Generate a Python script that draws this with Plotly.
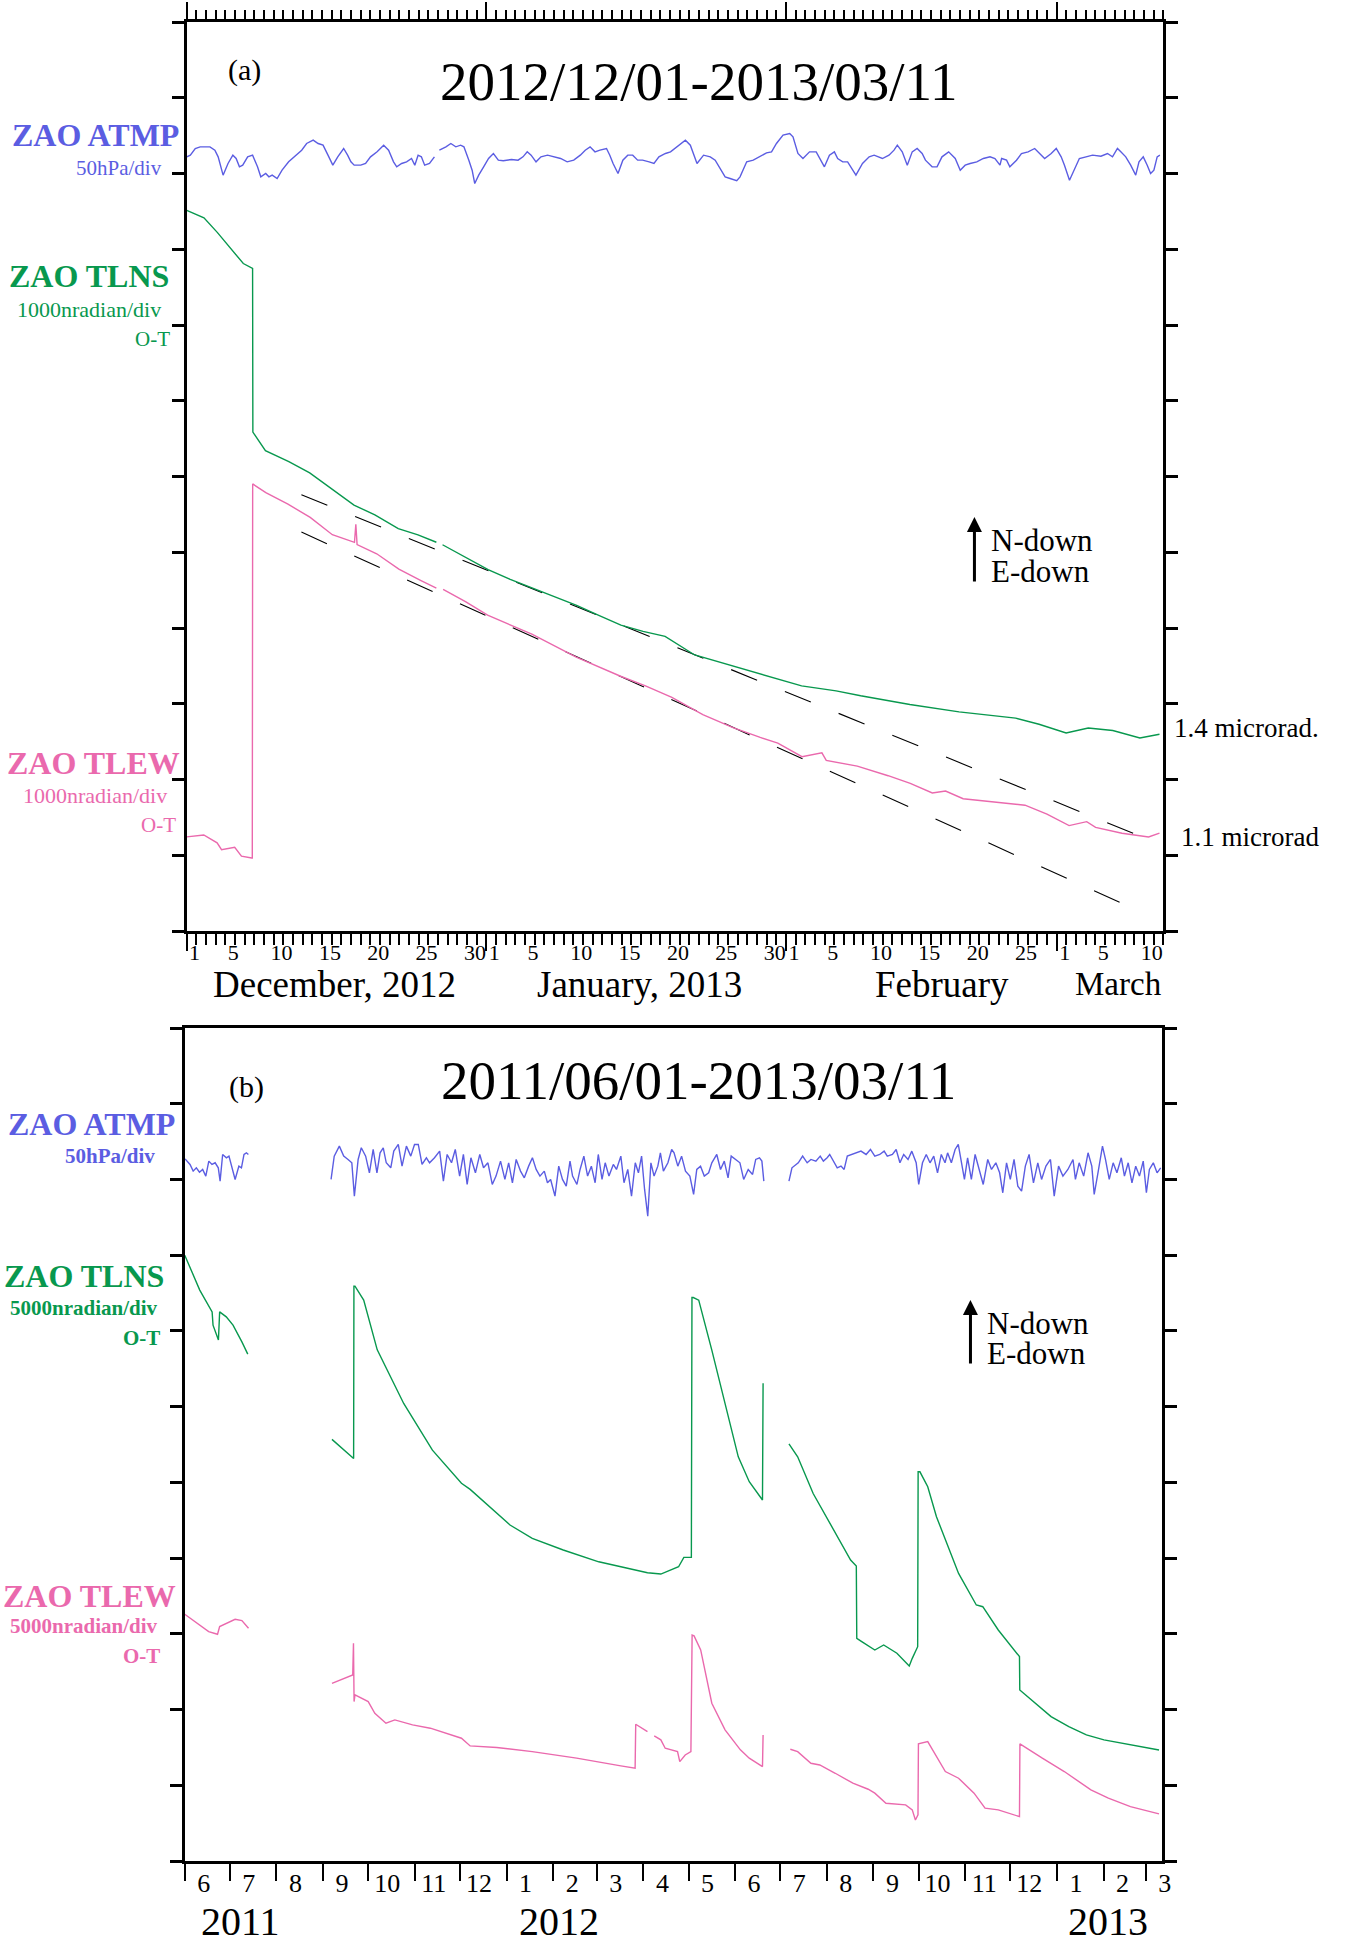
import plotly.graph_objects as go
from datetime import datetime, timedelta

W, H = 1346, 1941
FONT = "Liberation Serif"
BLUE = "#5b5de2"
GREEN = "#08984e"
PINK = "#ea69ad"

# ---------------- panel (a): 2012/12/01 - 2013/03/11 ----------------
A_START = datetime(2012, 12, 1)
A_END = datetime(2013, 3, 12)

# days since 2012-12-01, air pressure in hPa (None = data gap)
ATMP_A_DAYS = [0.0, 0.37, 0.88, 1.39, 2.40, 2.91, 3.25, 3.76, 4.27, 4.77, 5.11, 5.45, 5.79, 6.30, 6.81, 7.32, 7.66, 8.17, 8.50, 8.84,
               9.35, 9.86, 10.54, 11.38, 11.89, 12.40, 13.08, 13.59, 14.10, 14.61, 15.11, 15.62, 16.23, 16.64, 16.98, 17.32, 18.00, 18.50, 19.01, 19.69,
               20.37, 20.88, 21.39, 21.72, 22.23, 22.74, 23.25, 23.59, 23.93, 24.27, 24.61, 25.11, 25.62, None, 26.13, 26.81, 27.32, 27.83, 28.33, 28.67,
               29.18, 29.52, 29.79, 30.20, 30.71, 31.22, 31.72, 32.23, 32.74, 33.59, 34.27, 34.78, 35.22, 35.62, 36.13, 36.64, 37.32, 38.16, 38.67, 39.35,
               40.03, 40.71, 41.22, 41.72, 42.23, 42.74, 43.42, 43.76, 44.10, 44.61, 45.11, 45.62, 46.13, 46.64, 47.15, 47.83, 48.33, 48.84, 49.52,
               50.04, 50.72, 51.58, 52.09, 52.78, 53.46, 54.15, 54.66, 55.18, 55.69, 56.20, 56.89, 57.23, 57.92, 58.60, 59.29, 59.97, 60.49, 61.00, 61.68,
               62.37, 62.71, 63.22, 63.74, 64.42, 65.11, 65.62, 65.96, 66.48, 66.99, 67.33, 67.85, 68.36, 69.22, 69.90, 70.59, 71.10, 71.96, 72.64, 73.16,
               73.50, 74.01, 74.53, 75.04, 75.55, 76.07, 76.41, 77.10, 77.61, 78.12, 78.81, 79.49, 80.01, 80.52, 81.03, 81.72, 82.40, 83.09, 83.60, 84.12,
               84.29, 84.80, 85.14, 85.83, 86.34, 87.03, 87.71, 88.23, 88.74, 89.42, 89.94, 90.45, 90.79, 91.31, 91.82, 92.33, 93.02, 93.70, 94.56, 95.24,
               95.76, 96.27, 96.62, 97.13, 97.64, 98.16, 98.50, 98.94, 99.35, 99.70, 100.04, 100.38, 100.66]
ATMP_A_HPA = [911.0, 912.1, 916.5, 917.6, 917.6, 915.4, 911.0, 898.9, 906.6, 912.1, 909.9, 904.4, 905.5, 911.0, 912.1, 904.4, 897.8, 900.0, 897.8, 898.9,
              896.7, 902.2, 907.7, 912.1, 915.4, 919.8, 922.0, 919.8, 918.7, 912.1, 905.5, 911.0, 916.5, 912.1, 907.7, 905.5, 905.5, 906.6, 911.0, 914.3,
              918.7, 915.4, 907.7, 904.4, 906.6, 907.7, 909.9, 905.5, 912.1, 911.0, 905.5, 906.6, 911.0, None, 915.4, 917.6, 919.8, 917.6, 918.7, 917.6,
              908.8, 902.2, 893.4, 898.9, 904.4, 909.9, 913.2, 908.8, 908.4, 909.2, 908.8, 911.0, 914.3, 912.1, 907.7, 911.0, 912.1, 911.0, 909.9, 907.7,
              908.8, 912.1, 915.4, 917.6, 914.3, 915.4, 916.5, 912.1, 906.6, 900.0, 908.8, 912.1, 912.1, 908.8, 908.8, 907.7, 906.6, 911.0, 913.2,
              914.3, 917.6, 922.0, 918.7, 906.6, 912.1, 911.0, 908.8, 903.3, 897.8, 896.7, 895.2, 897.8, 907.7, 908.8, 911.0, 913.6, 914.3, 919.8, 925.3,
              926.4, 924.2, 913.2, 909.9, 914.3, 914.3, 908.8, 904.4, 912.1, 914.3, 909.9, 907.7, 907.7, 898.9, 906.6, 911.0, 912.1, 909.9, 912.1, 915.4,
              918.7, 914.3, 905.5, 914.3, 916.5, 913.2, 908.8, 904.4, 904.4, 911.0, 914.3, 909.9, 902.2, 905.5, 906.6, 907.7, 909.9, 911.0, 909.9, 905.5,
              909.9, 908.8, 904.4, 908.8, 913.2, 914.3, 916.5, 913.2, 909.9, 913.2, 916.5, 911.0, 905.5, 895.6, 902.2, 909.9, 911.0, 912.1, 911.4, 913.2,
              911.0, 916.5, 914.3, 911.0, 905.5, 898.9, 907.7, 911.0, 905.5, 900.0, 902.2, 911.0, 912.1]

# tilt N-S (nrad, relative to start)
TLNS_A_DAYS = [0.0, 1.78, 3.18, 4.45, 5.85, 6.81, 6.84, 8.14, 10.56, 12.72, 15.01, 17.30, 19.46, 21.88, 23.92, 25.82, None, 26.46, 28.75, 31.17,
               33.46, 35.75, 37.91, 40.33, 42.62, 44.91, 47.20, 49.48, 52.54, 56.61, 59.53, 63.60, 67.17, 69.71, 74.80, 79.89, 85.74, 88.16, 90.96, 93.25,
               95.79, 98.59, 100.62]
TLNS_A_NRAD = [0, -98, -294, -490, -703, -768, -2927, -3172, -3319, -3466, -3679, -3891, -4022, -4202, -4284, -4382, None, -4415, -4578, -4742,
               -4872, -4987, -5101, -5216, -5346, -5477, -5559, -5624, -5870, -6017, -6131, -6278, -6344, -6409, -6524, -6622, -6704, -6785, -6900, -6834,
               -6867, -6965, -6916]

# tilt E-W (nrad, relative to start)
TLEW_A_DAYS = [0.0, 1.76, 3.14, 3.60, 4.96, 5.66, 6.72, 6.78, 6.82, 8.18, 10.47, 12.77, 15.06, 17.35, 17.49, 17.62, 19.65, 21.94, 24.23, 25.82,
               None, 26.52, 28.83, 31.12, 35.70, 40.29, 44.87, 47.45, 50.18, 53.38, 56.57, 59.32, 61.14, 63.64, 65.70, 66.15, 69.36, 72.55, 74.84, 77.12,
               78.49, 80.31, 83.96, 86.71, 88.98, 91.27, 93.09, 94.01, 96.74, 99.49, 100.62]
TLEW_A_NRAD = [0, 25, -78, -168, -137, -253, -278, -278, 4660, 4545, 4393, 4218, 3989, 3888, 4127, 3859, 3738, 3535, 3384, 3283,
               None, 3267, 3106, 2928, 2676, 2372, 2121, 1995, 1843, 1615, 1439, 1313, 1238, 1059, 1110, 1010, 934, 808, 706, 580,
               605, 504, 455, 419, 302, 150, 201, 126, 49, 0, 49]

# linear trend lines (dashed)
TREND_NS_DAYS = [11.86, 100.32]
TREND_NS_NRAD = [-3754, -8350]
TREND_EW_DAYS = [11.86, 98.81]
TREND_EW_NRAD = [4024, -996]

A_MONTHS = [(2012, 12, [1, 5, 10, 15, 20, 25, 30]), (2013, 1, [1, 5, 10, 15, 20, 25, 30]),
            (2013, 2, [1, 5, 10, 15, 20, 25]), (2013, 3, [1, 5, 10])]

# ---------------- panel (b): 2011/06/01 - 2013/03/11 ----------------
B_START = datetime(2011, 6, 1)
B_END = datetime(2013, 3, 12)

ATMP_B_DAYS = [0.2, 3.5, 5.6, 7.7, 9.8, 11.9, 14.0, 16.0, 18.1, 20.2, 22.3, 23.5, 25.2, 27.7, 29.4, 31.9, 33.5, 36.0, 37.7, 39.4, 41.0, 42.3,
               None,
               97.3, 99.4, 102.8, 105.7, 108.6, 111.1, 112.8, 115.3, 117.4, 120.3, 122.8, 125.3, 127.8, 129.9, 132.0, 134.0, 137.0, 139.0, 142.0, 144.5,
               147.4, 150.3, 152.8, 155.3, 157.8, 160.7, 162.8, 166.1, 169.5, 172.0, 174.5, 177.4, 179.9, 182.8, 185.3, 187.8, 190.3, 193.3, 196.2, 198.7,
               201.6, 204.5, 207.0, 210.0, 212.9, 215.4, 217.9, 220.4, 223.3, 225.8, 228.7, 231.2, 233.7, 236.2, 239.1, 241.2, 243.3, 246.2, 248.7, 251.2,
               253.7, 256.2, 257.9, 260.8, 262.9, 265.4, 267.9, 270.4, 272.9, 275.0, 277.5, 279.6, 282.1, 285.0, 287.1, 290.0, 292.1, 294.6, 297.1, 299.6,
               301.7, 303.8, 305.8, 307.9, 310.0, 312.1, 314.6, 316.3, 318.3, 321.3, 323.8, 325.4, 327.9, 330.4, 333.0, 335.9, 338.4, 340.5, 343.0, 345.5,
               348.4, 350.5, 353.8, 356.3, 358.8, 361.3, 363.4, 366.3, 369.2, 371.7, 374.7, 377.6, 379.7, 382.2, 383.8, 385.1,
               None,
               401.8, 403.8, 408.0, 410.9, 413.9, 416.4, 419.7, 422.6, 424.7, 427.2, 428.9, 431.4, 433.9, 436.4, 438.5, 440.6, 443.9, 446.4, 449.7, 453.1,
               456.0, 458.9, 462.2, 465.1, 467.2, 470.6, 473.1, 475.6, 478.1, 481.0, 483.5, 486.4, 488.1, 490.6, 493.1, 495.6, 498.1, 500.6, 503.1, 505.6,
               507.3, 509.8, 512.3, 514.4, 516.4, 518.5, 520.6, 523.1, 525.6, 528.1, 531.0, 534.0, 536.5, 539.4, 541.9, 544.0, 546.5, 549.0, 551.5, 554.0,
               556.5, 559.0, 561.5, 564.4, 567.3, 569.8, 572.7, 575.7, 578.2, 581.1, 584.0, 587.3, 590.7, 592.3, 594.8, 597.8, 600.7, 603.2, 604.8, 607.3,
               610.3, 612.3, 614.8, 617.4, 619.9, 622.8, 624.9, 627.4, 629.9, 632.4, 634.9, 637.4, 639.5, 641.5, 644.1, 646.6, 649.0]
ATMP_B_HPA = [913.6, 909.9, 905.5, 907.7, 904.8, 906.6, 902.2, 912.1, 909.9, 911.0, 907.7, 898.9, 916.5, 914.3, 915.4, 906.6, 900.0, 908.8, 907.7, 916.5, 917.6, 916.5,
              None,
              900.0, 915.4, 922.0, 915.4, 913.2, 911.0, 889.0, 913.2, 920.9, 915.4, 904.4, 919.8, 904.4, 917.6, 920.9, 911.0, 907.7, 918.7, 923.1, 908.8,
              922.0, 915.4, 923.1, 923.1, 909.9, 914.3, 911.0, 914.3, 918.7, 898.9, 916.5, 911.0, 919.8, 902.2, 916.5, 896.7, 914.3, 904.4, 916.5, 907.7,
              911.0, 896.7, 902.2, 912.1, 900.0, 911.0, 897.8, 913.2, 905.5, 901.1, 908.8, 914.3, 906.6, 902.2, 905.5, 897.8, 900.0, 889.0, 908.8, 900.0,
              895.6, 912.1, 902.2, 896.7, 906.6, 915.4, 902.2, 908.8, 897.8, 916.5, 900.0, 911.0, 902.2, 909.9, 906.6, 915.4, 897.8, 906.6, 889.0, 911.0,
              904.4, 915.4, 893.4, 875.8, 911.0, 902.2, 908.8, 917.6, 905.5, 911.0, 919.8, 917.6, 908.8, 915.4, 905.5, 902.2, 890.1, 906.6, 908.8, 902.2,
              904.4, 911.0, 916.5, 906.6, 912.1, 901.1, 915.4, 913.2, 911.0, 900.0, 906.6, 903.3, 913.2, 914.3, 912.1, 898.9,
              None,
              898.9, 907.7, 911.0, 915.4, 911.0, 913.2, 912.1, 915.4, 912.1, 914.3, 916.5, 912.1, 907.7, 908.8, 906.6, 915.4, 916.5, 917.6, 918.7, 916.5,
              919.8, 915.4, 916.5, 918.7, 915.4, 916.5, 919.8, 911.0, 916.5, 913.2, 918.7, 911.0, 896.7, 911.0, 916.5, 911.0, 915.4, 904.4, 916.5, 911.0,
              917.6, 911.0, 919.8, 923.1, 911.0, 900.0, 914.3, 900.0, 916.5, 906.6, 896.7, 913.2, 906.6, 911.0, 904.4, 891.2, 911.0, 900.0, 913.2, 895.6,
              892.3, 908.8, 916.5, 897.8, 911.0, 900.0, 908.8, 913.2, 889.0, 908.8, 902.2, 906.6, 913.2, 900.0, 911.0, 902.2, 917.6, 908.8, 890.1, 904.4,
              922.0, 913.2, 900.0, 911.0, 904.4, 914.3, 902.2, 911.0, 897.8, 908.8, 902.2, 912.1, 891.2, 906.6, 911.0, 904.4, 907.7]

TLNS_B_DAYS = [0.0, 9.97, 18.2, 18.8, 22.4, 23.2, 27.6, 32.1, 38.0, 41.9,
               None, 97.9, 112.3, 112.5, 113.2, 119.0, 128.0, 145.6, 164.7, 184.0,
               189.8, 216.3, 231.1, 251.7, 275.3, 307.7, 316.6, 328.4, 331.9, 336.9,
               337.3, 338.2, 341.8, 350.5, 359.3, 368.1, 375.4, 384.2, 384.6, None,
               401.8, 407.6, 417.9, 432.6, 442.8, 446.6, 446.9, 450.2, 458.9, 464.8,
               473.6, 481.8, 483.8, 487.4, 487.7, 488.9, 494.1, 499.9, 514.6, 526.4,
               530.7, 541.0, 555.1, 555.3, 564.5, 576.1, 587.9, 599.6, 611.3, 623.0,
               634.8, 647.9]
TLNS_B_NRAD = [0, -2305, -3743, -4618, -5599, -3743, -4070, -4618, -5721, -6530,
               None, -12161, -13420, -2043, -2043, -2967, -6252, -9791, -12873, -15063,
               -15463, -17817, -18700, -19468, -20244, -20964, -21054, -20572, -19950, -19950,
               -2795, -2795, -2967, -6269, -9791, -13314, -14957, -16166, -8459, None,
               -12464, -13314, -15733, -18365, -20130, -20523, -25295, -25516, -26071, -25737,
               -26284, -27126, -26620, -25851, -14303, -14303, -15292, -17270, -21013, -23097,
               -23211, -24748, -26505, -28712, -29480, -30469, -31131, -31678, -32005, -32226,
               -32447, -32668]

TLEW_B_DAYS = [0.0, 15.9, 21.8, 23.2, 33.5, 38.0, 42.4, None, 97.9, 111.7,
               112.2, 112.6, 113.2, 122.0, 126.4, 133.8, 139.7, 151.5, 163.3, 184.0,
               189.8, 207.5, 231.1, 260.6, 290.0, 299.5, 299.9, 307.7, None, 312.2,
               316.6, 319.5, 327.7, 329.2, 332.8, 336.6, 337.4, 338.7, 343.1, 350.5,
               359.3, 369.5, 375.4, 384.2, 384.6, None, 402.7, 407.6, 416.4, 422.3,
               432.6, 444.3, 454.5, 458.9, 466.3, 479.4, 483.8, 485.9, 487.6, 487.9,
               494.1, 505.8, 514.6, 524.9, 532.2, 541.0, 555.1, 555.4, 570.3, 584.9,
               602.6, 614.2, 628.9, 640.6, 647.9]
TLEW_B_NRAD = [0, -1152, -1324, -817, -335, -425, -924, None, -4561, -4013,
               -1921, -5770, -5329, -5770, -6538, -7200, -6980, -7307, -7527, -8189,
               -8696, -8802, -9072, -9505, -10012, -10167, -7266, -7756, None, -8034,
               -8296, -8851, -9072, -9734, -9293, -9072, -1373, -1430, -2362, -5876,
               -7634, -8958, -9505, -10061, -7969, None, -8917, -9072, -9840, -9955,
               -10502, -11156, -11557, -11818, -12480, -12587, -12922, -13584, -13248, -8557,
               -8410, -10388, -10829, -11818, -12807, -12922, -13363, -8557, -9505, -10388,
               -11598, -12145, -12701, -13028, -13183]

B_MONTH_LABELS = ["6", "7", "8", "9", "10", "11", "12", "1", "2", "3", "4", "5", "6", "7", "8", "9", "10", "11", "12", "1", "2", "3"]


def dates(start, days):
    return [start + timedelta(days=d) if d is not None else None for d in days]


def divs(vals, base, per_div, ref=0.0):
    return [base + (v - ref) / per_div if v is not None else None for v in vals]


fig = go.Figure()


def add_line(x, y, color, xa, ya, width=1.4, dash=None, opacity=1.0):
    fig.add_trace(go.Scatter(x=x, y=y, mode="lines", xaxis=xa, yaxis=ya, connectgaps=False, opacity=opacity,
                             line=dict(color=color, width=width, dash=dash), hoverinfo="skip", showlegend=False))


# panel (a): divisions (bottom = 0)
add_line(dates(A_START, TREND_NS_DAYS), divs(TREND_NS_NRAD, 9.514, 1000), "black", "x", "y", 1.1, "28px,30px")
add_line(dates(A_START, TREND_EW_DAYS), divs(TREND_EW_NRAD, 1.242, 1000), "black", "x", "y", 1.1, "28px,30px")
add_line(dates(A_START, ATMP_A_DAYS), divs(ATMP_A_HPA, 10, 50, 900), BLUE, "x", "y")
add_line(dates(A_START, TLNS_A_DAYS), divs(TLNS_A_NRAD, 9.514, 1000), GREEN, "x", "y")
add_line(dates(A_START, TLEW_A_DAYS), divs(TLEW_A_NRAD, 1.242, 1000), PINK, "x", "y")
# invisible copies so the tick-only overlay axes are rendered
add_line(dates(A_START, TREND_NS_DAYS), divs(TREND_NS_NRAD, 9.514, 1000), "black", "x3", "y", 1, None, 0)
add_line(dates(A_START, TREND_NS_DAYS), divs(TREND_NS_NRAD, 9.514, 1000), "black", "x4", "y", 1, None, 0)

# panel (b)
add_line(dates(B_START, ATMP_B_DAYS), divs(ATMP_B_HPA, 9, 50, 900), BLUE, "x2", "y2")
add_line(dates(B_START, TLNS_B_DAYS), divs(TLNS_B_NRAD, 8.0, 5000), GREEN, "x2", "y2")
add_line(dates(B_START, TLEW_B_DAYS), divs(TLEW_B_NRAD, 3.259, 5000), PINK, "x2", "y2")

# tick positions
a_label_vals, a_label_text = [], []
for yy, mm, dl in A_MONTHS:
    for d in dl:
        a_label_vals.append(datetime(yy, mm, d, 12))
        a_label_text.append(str(d))
a_days = [A_START + timedelta(days=i) for i in range((A_END - A_START).days + 1)]
a_months = [datetime(yy, mm, 1) for yy, mm, _ in A_MONTHS]

b_months = []
yy, mm = 2011, 6
for _ in B_MONTH_LABELS:
    b_months.append(datetime(yy, mm, 1))
    mm += 1
    if mm > 12:
        mm, yy = 1, yy + 1

AX_A_X = [188 / W, 1171 / W]
AX_A_Y = [1 - 931 / H, 1 - 22 / H]
AX_B_X = [186 / W, 1170 / W]
AX_B_Y = [1 - 1861 / H, 1 - 1028 / H]

base_x = dict(type="date", showgrid=False, zeroline=False)
minor_days = dict(tickmode="array", tickvals=a_days, ticks="outside", ticklen=11, tickwidth=1.5,
                  tickcolor="black", showgrid=False)
ybase = dict(tickmode="array", ticks="outside", ticklen=12, tickwidth=2.5, tickcolor="black",
             showticklabels=False, showline=True, linecolor="black", linewidth=3, mirror="ticks",
             showgrid=False, zeroline=False)

fig.update_layout(
    width=W, height=H, margin=dict(l=0, r=0, t=0, b=0),
    paper_bgcolor="white", plot_bgcolor="white", showlegend=False,
    font=dict(family=FONT, color="black"),
    xaxis=dict(domain=AX_A_X, anchor="y", range=[A_START, A_END], tickmode="array",
               tickvals=a_label_vals, ticktext=a_label_text, ticks="", tickangle=0,
               tickfont=dict(family=FONT, size=22, color="black"), ticklabelshift=3,
               showline=True, linecolor="black", linewidth=3, mirror=True,
               minor=minor_days, **base_x),
    xaxis3=dict(overlaying="x", anchor="y", side="bottom", range=[A_START, A_END], tickmode="array",
                tickvals=a_months, ticks="outside", ticklen=19, tickwidth=1.5, tickcolor="black",
                showticklabels=False, showline=False, **base_x),
    xaxis4=dict(overlaying="x", anchor="y", side="top", range=[A_START, A_END], tickmode="array",
                tickvals=a_months, ticks="outside", ticklen=19, tickwidth=1.5, tickcolor="black",
                showticklabels=False, showline=False, minor=minor_days, **base_x),
    yaxis=dict(domain=AX_A_Y, anchor="x", range=[0, 12], tickvals=list(range(13)), **ybase),
    xaxis2=dict(domain=AX_B_X, anchor="y2", range=[B_START, B_END], tickmode="array",
                tickvals=b_months, ticktext=B_MONTH_LABELS, ticks="outside", ticklen=17, tickwidth=1.5,
                tickcolor="black", tickangle=0, ticklabelshift=19, ticklabelstandoff=-20,
                tickfont=dict(family=FONT, size=26, color="black"),
                showline=True, linecolor="black", linewidth=3, mirror=True, **base_x),
    yaxis2=dict(domain=AX_B_Y, anchor="x2", range=[0, 11], tickvals=list(range(12)), **ybase),
)


def ann(text, x, y, size, color="black", xanchor="center", bold=False):
    return dict(text=f"<b>{text}</b>" if bold else text, x=x / W, y=1 - y / H, xref="paper", yref="paper",
                xanchor=xanchor, yanchor="middle", showarrow=False,
                font=dict(family=FONT, size=size, color=color))


anns = [
    # panel (a)
    ann("(a)", 246, 70, 30),
    ann("2012/12/01-2013/03/11", 703, 82, 55),
    ann("ZAO ATMP", 182, 135, 32, BLUE, "right", True),
    ann("50hPa/div", 165, 168, 21, BLUE, "right"),
    ann("ZAO TLNS", 172, 276, 32, GREEN, "right", True),
    ann("1000nradian/div", 164, 309, 22, GREEN, "right"),
    ann("O-T", 173, 339, 21, GREEN, "right"),
    ann("ZAO TLEW", 183, 763, 32, PINK, "right", True),
    ann("1000nradian/div", 170, 795, 22, PINK, "right"),
    ann("O-T", 179, 825, 21, PINK, "right"),
    ann("N-down", 996, 540, 31, "black", "left"),
    ann("E-down", 996, 571, 31, "black", "left"),
    ann("1.4 microrad.", 1180, 728, 27, "black", "left"),
    ann("1.1 microrad", 1187, 837, 27, "black", "left"),
    ann("December, 2012", 337, 984, 37),
    ann("January, 2013", 644, 984, 37),
    ann("February", 948, 984, 37),
    ann("March", 1126, 984, 33),
    # panel (b)
    ann("(b)", 248, 1087, 30),
    ann("2011/06/01-2013/03/11", 703, 1080, 55),
    ann("ZAO ATMP", 178, 1124, 32, BLUE, "right", True),
    ann("50hPa/div", 158, 1156, 21, BLUE, "right", True),
    ann("ZAO TLNS", 167, 1276, 32, GREEN, "right", True),
    ann("5000nradian/div", 161, 1308, 21, GREEN, "right", True),
    ann("O-T", 163, 1338, 21, GREEN, "right", True),
    ann("ZAO TLEW", 179, 1596, 32, PINK, "right", True),
    ann("5000nradian/div", 161, 1626, 21, PINK, "right", True),
    ann("O-T", 163, 1656, 21, PINK, "right", True),
    ann("N-down", 992, 1323, 31, "black", "left"),
    ann("E-down", 992, 1353, 31, "black", "left"),
    ann("2011", 242, 1921, 40),
    ann("2012", 563, 1921, 40),
    ann("2013", 1115, 1921, 40),
]
for tip_x, tip_y, tail in [(981, 517, 66), (977, 1300, 65)]:
    anns.append(dict(text="", x=tip_x / W, y=1 - tip_y / H, xref="paper", yref="paper",
                     ax=0, ay=tail, showarrow=True, arrowhead=2, arrowsize=1, arrowwidth=3,
                     arrowcolor="black", standoff=0))
fig.update_layout(annotations=anns)

fig.write_html("out.html")
